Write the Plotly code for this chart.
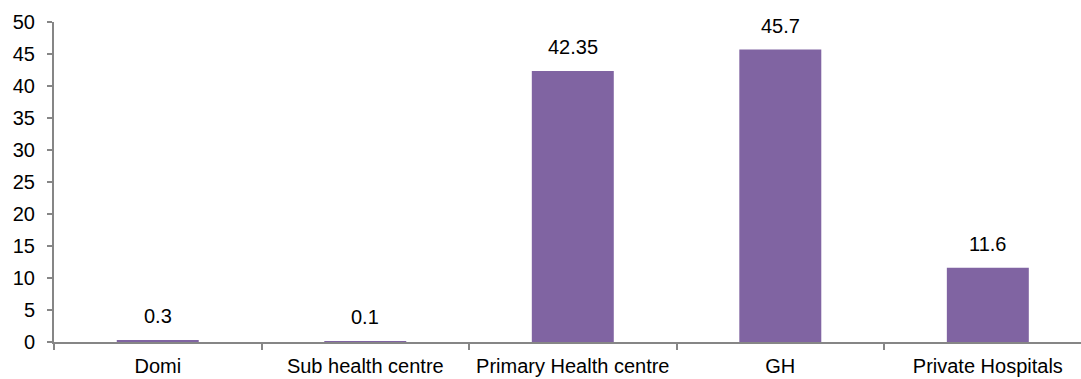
import plotly.graph_objects as go

# Share of cases by facility type
categories = ["Domi", "Sub health centre", "Primary Health centre", "GH", "Private Hospitals"]
values = [0.3, 0.1, 42.35, 45.7, 11.6]
value_labels = ["0.3", "0.1", "42.35", "45.7", "11.6"]
y_ticks = [0, 5, 10, 15, 20, 25, 30, 35, 40, 45, 50]

BAR_COLOR = "#8064A2"
AXIS_COLOR = "#868686"
FONT = dict(family="Liberation Sans, Arial, sans-serif", size=20, color="#000000")

fig = go.Figure(
    go.Bar(
        x=categories,
        y=values,
        width=0.395,
        marker=dict(color=BAR_COLOR, line=dict(width=0)),
        hoverinfo="skip",
    )
)

# value labels sitting above each bar
for cat, val, txt in zip(categories, values, value_labels):
    fig.add_annotation(
        x=cat, y=val, text=txt, showarrow=False,
        xanchor="center", yanchor="bottom", yshift=11,
        font=FONT,
    )

fig.update_layout(
    width=1081, height=379,
    margin=dict(l=54, r=0, t=22, b=37, autoexpand=False),
    paper_bgcolor="white", plot_bgcolor="white",
    font=FONT,
    showlegend=False,
    bargap=0.6,
)

fig.update_xaxes(
    type="category",
    range=[-0.5, 4.449],
    showline=True, linecolor=AXIS_COLOR, linewidth=2,
    ticks="outside", tickson="boundaries", ticklen=6, tickcolor=AXIS_COLOR, tickwidth=2,
    showgrid=False, zeroline=False,
    tickfont=FONT, automargin=False,
    ticklabelstandoff=5,
)

fig.update_yaxes(
    range=[0, 50],
    tickvals=y_ticks,
    showline=True, linecolor=AXIS_COLOR, linewidth=2,
    ticks="outside", ticklen=5, tickcolor=AXIS_COLOR, tickwidth=2,
    showgrid=False, zeroline=False,
    tickfont=FONT, automargin=False,
    ticklabelstandoff=8,
)

fig.write_html("out.html")
